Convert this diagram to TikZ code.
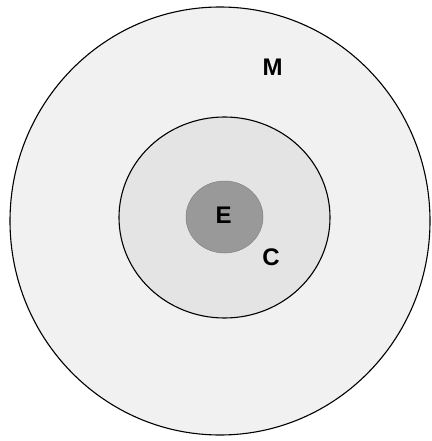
\documentclass[tikz,border=0pt]{standalone}
\usepackage{fontspec}
\setmainfont{Liberation Sans}
\usepackage{tikz}
\usepackage{xcolor}
\definecolor{outerbg} {RGB}{241,241,241}
\definecolor{middlebg}{RGB}{228,228,228}
\definecolor{corebg}  {RGB}{153,153,153}
\definecolor{coreline}{RGB}{130,130,130}

\begin{document}
\begin{tikzpicture}[
    x=1pt, y=-1pt,
    ring/.style={draw=black, line width=1.1pt},
    label/.style={font=\fontsize{24}{28}\selectfont\bfseries, inner sep=0pt}
]
    \useasboundingbox (0,0) rectangle (431,441);

    % Nested regions
    \draw[ring, fill=outerbg] (220,221) ellipse [x radius=210, y radius=214];
    \draw[ring, fill=middlebg] (224.5,217.5) ellipse [x radius=105.5, y radius=100.5];
    \draw[draw=coreline, line width=0.5pt, fill=corebg] (224.5,217) ellipse [x radius=38.5, y radius=36];

    % Labels
    \node[label] (m) at (272.5,67) {M};
    \node[label] (e) at (223.5,215.5) {E};
    \node[label] (c) at (271,257) {C};
\end{tikzpicture}
\end{document}
